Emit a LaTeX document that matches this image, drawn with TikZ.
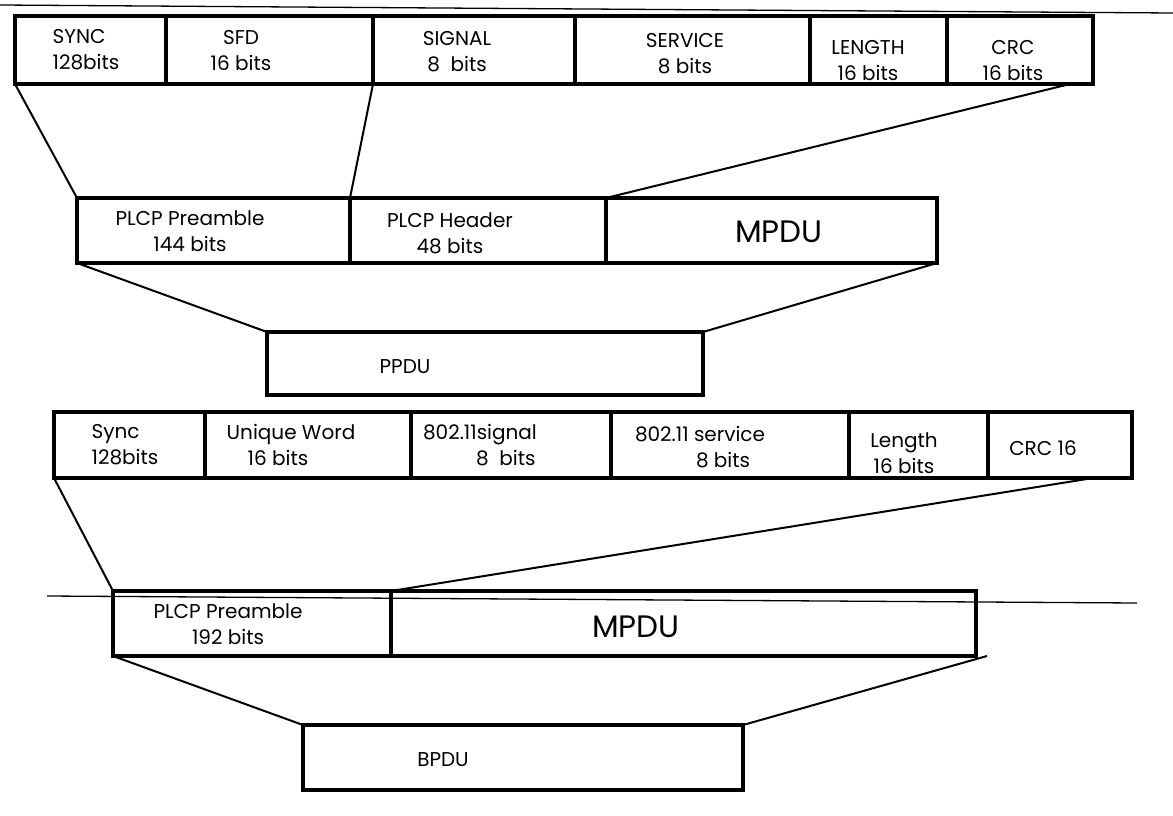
\documentclass[tikz,border=0pt]{standalone}
\usepackage{fontspec}
\setmainfont{Poppins}
\usepackage{tikz}
\tikzset
{
  field/.style={draw,line width=4.4pt,anchor=north west,outer sep=0pt,inner sep=0pt},
  fieldtext/.style={align=center,inner sep=0pt,font=\fontsize{20}{26}\selectfont},
  bigtext/.style={inner sep=0pt,font=\fontsize{31}{36}\selectfont},
  link/.style={line width=2pt},
  scanline/.style={line width=1.3pt}
}

\begin{document}
\begin{tikzpicture}[x=1pt,y=-1pt]
        \useasboundingbox (0,0) rectangle (1173,816);

        % Thin rule along the top
        \draw[scanline] (0,5) -- (1173,13);

        % 802.11 PLCP header fields
        \node[field,minimum width=151,minimum height=68] (sync) at (15,16) {};
        \node[field,minimum width=207,minimum height=68] (sfd) at (166,16) {};
        \node[field,minimum width=202,minimum height=68] (signal) at (373,16) {};
        \node[field,minimum width=235,minimum height=68] (service) at (575,16) {};
        \node[field,minimum width=137,minimum height=68] (length) at (810,16) {};
        \node[field,minimum width=146,minimum height=68] (crc) at (947,16) {};
        \node[fieldtext,align=left] (synctext) at (86,50) {SYNC\\128bits};
        \node[fieldtext] (sfdtext) at (241,51) {SFD\\16 bits};
        \node[fieldtext] (signaltext) at (457,52) {SIGNAL\\8\ \ bits};
        \node[fieldtext] (servicetext) at (685,54) {SERVICE\\8 bits};
        \node[fieldtext] (lengthtext) at (868,61) {LENGTH\\16 bits};
        \node[fieldtext] (crctext) at (1013,61) {CRC\\16 bits};

        % PPDU split
        \node[field,minimum width=273,minimum height=65] (preamble) at (77,198) {};
        \node[field,minimum width=256,minimum height=65] (header) at (350,198) {};
        \node[field,minimum width=331,minimum height=65] (mpdu) at (606,198) {};
        \node[fieldtext] (preambletext) at (190,231) {PLCP Preamble\\144 bits};
        \node[fieldtext] (headertext) at (450,233) {PLCP Header\\48 bits};
        \node[bigtext] (mpdutext) at (779,232) {MPDU};

        \node[field,minimum width=436,minimum height=63] (ppdu) at (267,332) {};
        \node[fieldtext] (ppdutext) at (405,367) {PPDU};

        \draw[link] (sync.south west) -- (preamble.north west);
        \draw[link] (sfd.south east) -- (preamble.north east);
        \draw[link] ([xshift=-23pt]crc.south east) -- (mpdu.north west);
        \draw[link] (preamble.south west) -- (ppdu.north west);
        \draw[link] (mpdu.south east) -- (ppdu.north east);

        % Second set of fields
        \node[field,minimum width=151,minimum height=66] (syncb) at (54,412) {};
        \node[field,minimum width=206,minimum height=66] (word) at (205,412) {};
        \node[field,minimum width=200,minimum height=66] (signalb) at (411,412) {};
        \node[field,minimum width=238,minimum height=66] (serviceb) at (611,412) {};
        \node[field,minimum width=139,minimum height=66] (lengthb) at (849,412) {};
        \node[field,minimum width=144,minimum height=66] (crcb) at (988,412) {};
        \node[fieldtext,align=left] (syncbtext) at (125,445) {Sync\\128bits};
        \node[fieldtext,align=left] (wordtext) at (291,445) {Unique Word\\\hspace{21pt}16 bits};
        \node[fieldtext,align=left] (signalbtext) at (480,445) {802.11signal\\\hspace{53pt}8\ \ bits};
        \node[fieldtext,align=left] (servicebtext) at (700,447) {802.11 service\\\hspace{61pt}8 bits};
        \node[fieldtext] (lengthbtext) at (904,453) {Length\\16 bits};
        \node[fieldtext] (crcbtext) at (1043,448) {CRC 16};

        % BPDU split
        \node[field,minimum width=278,minimum height=65] (preambleb) at (113,591) {};
        \node[field,minimum width=585,minimum height=65] (mpdub) at (391,591) {};
        \node[fieldtext] (preamblebtext) at (228,624) {PLCP Preamble\\192 bits};
        \node[bigtext] (mpdubtext) at (636,627) {MPDU};

        \node[field,minimum width=440,minimum height=65] (bpdu) at (303,725) {};
        \node[fieldtext] (bpdutext) at (443,760) {BPDU};

        \draw[link] (syncb.south west) -- (preambleb.north west);
        \draw[link] ([xshift=-39pt]crcb.south east) -- (preambleb.north east);
        \draw[link] (preambleb.south west) -- (bpdu.north west);
        \draw[link] ([xshift=11pt]mpdub.south east) -- (bpdu.north east);

        % Thin rule through the lower row
        \draw[scanline] (47,596) -- (1137,603);
\end{tikzpicture}
\end{document}
